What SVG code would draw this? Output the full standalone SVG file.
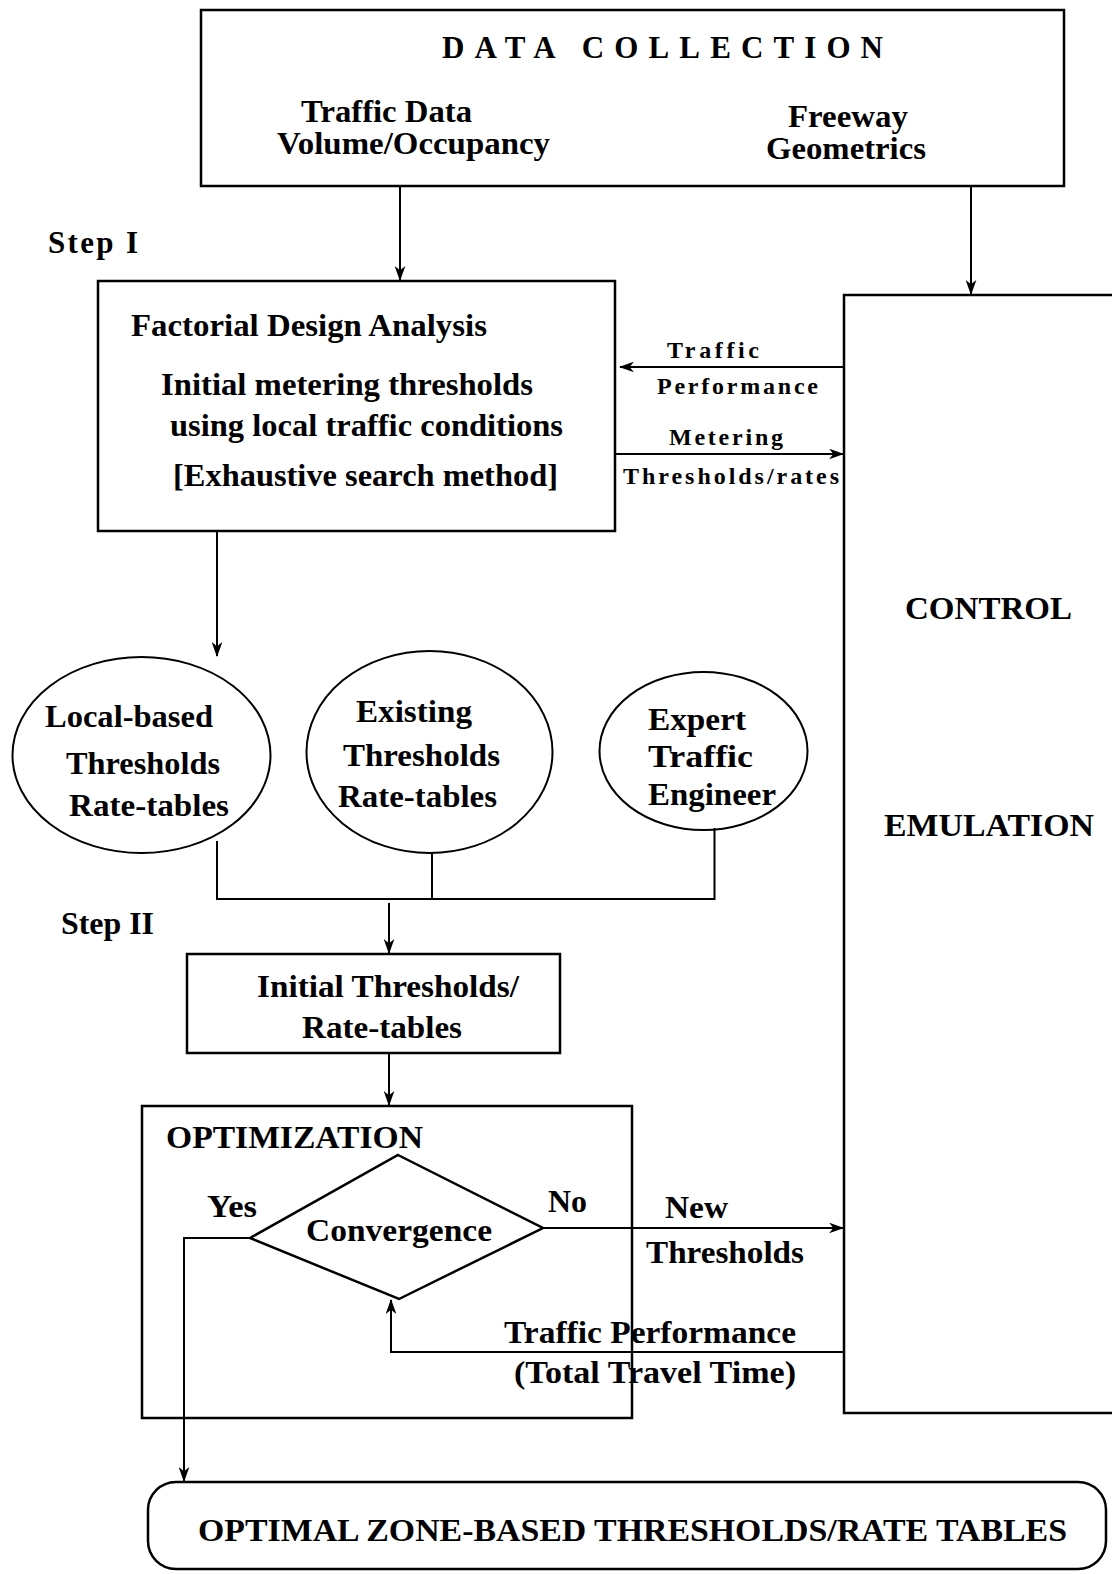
<svg xmlns="http://www.w3.org/2000/svg" width="1112" height="1574" viewBox="0 0 1112 1574">
<defs>
<style>
.bx{fill:none;stroke:#000;stroke-width:2.5}
.ln{fill:none;stroke:#000;stroke-width:2}
.t{font-family:"Liberation Serif","Times New Roman",serif;font-weight:bold;font-size:31px;fill:#000}
.s{font-family:"Liberation Serif","Times New Roman",serif;font-weight:bold;font-size:24px;fill:#000}
</style>
<marker id="ah" viewBox="0 0 14 10" refX="13" refY="5" markerWidth="15" markerHeight="11" markerUnits="userSpaceOnUse" orient="auto">
<path d="M0,0 L14,5 L0,10 L4,5 z" fill="#000"/>
</marker>
</defs>
<rect width="1112" height="1574" fill="#fff"/>

<g id="connectors">
<line class="ln" x1="400" y1="186" x2="400" y2="280" marker-end="url(#ah)"/>
<line class="ln" x1="971" y1="186" x2="971" y2="294" marker-end="url(#ah)"/>
<line class="ln" x1="844" y1="367" x2="620" y2="367" marker-end="url(#ah)"/>
<line class="ln" x1="615" y1="454" x2="843" y2="454" marker-end="url(#ah)"/>
<line class="ln" x1="217" y1="531" x2="217" y2="656" marker-end="url(#ah)"/>
<polyline class="ln" points="217,841 217,899 714.5,899 714.5,828"/>
<line class="ln" x1="432" y1="853" x2="432" y2="899"/>
<line class="ln" x1="389" y1="903" x2="389" y2="953" marker-end="url(#ah)"/>
<line class="ln" x1="389" y1="1053" x2="389" y2="1105" marker-end="url(#ah)"/>
<line class="ln" x1="543" y1="1228" x2="843" y2="1228" marker-end="url(#ah)"/>
<polyline class="ln" points="844,1352 391,1352 391,1300" marker-end="url(#ah)"/>
<polyline class="ln" points="250,1238 184,1238 184,1481" marker-end="url(#ah)"/>
</g>

<g id="data-collection">
<rect class="bx" x="201" y="10" width="863" height="176"/>
<text class="t" x="442" y="58" textLength="441" lengthAdjust="spacing" font-size="30">DATA COLLECTION</text>
<text class="t" x="301" y="122" textLength="171" lengthAdjust="spacingAndGlyphs" font-size="28">Traffic Data</text>
<text class="t" x="277" y="154" textLength="273" lengthAdjust="spacingAndGlyphs" font-size="28">Volume/Occupancy</text>
<text class="t" x="788" y="127" textLength="120" lengthAdjust="spacingAndGlyphs" font-size="28">Freeway</text>
<text class="t" x="766" y="159" textLength="160" lengthAdjust="spacingAndGlyphs" font-size="28">Geometrics</text>
</g>

<g id="step1">
<text class="t" x="48" y="253" textLength="90" lengthAdjust="spacing">Step  I</text>
</g>

<g id="factorial">
<rect class="bx" x="98" y="281" width="517" height="250"/>
<text class="t" x="131" y="336" textLength="356" lengthAdjust="spacingAndGlyphs">Factorial Design Analysis</text>
<text class="t" x="161" y="395" textLength="372" lengthAdjust="spacingAndGlyphs">Initial metering thresholds</text>
<text class="t" x="170" y="436" textLength="393" lengthAdjust="spacingAndGlyphs">using local traffic conditions</text>
<text class="t" x="173" y="486" textLength="385" lengthAdjust="spacingAndGlyphs">[Exhaustive search method]</text>
</g>

<g id="labels-loop1">
<text class="s" x="667" y="358" textLength="92" lengthAdjust="spacing">Traffic</text>
<text class="s" x="657" y="394" textLength="161" lengthAdjust="spacing">Performance</text>
<text class="s" x="669" y="445" textLength="114" lengthAdjust="spacing">Metering</text>
<text class="s" x="623" y="484" textLength="216" lengthAdjust="spacing">Thresholds/rates</text>
</g>

<g id="control-emulation">
<path class="bx" d="M1120,295 L844,295 L844,1413 L1120,1413"/>
<text class="t" x="905" y="619" textLength="167" lengthAdjust="spacingAndGlyphs">CONTROL</text>
<text class="t" x="884" y="836" textLength="210" lengthAdjust="spacingAndGlyphs">EMULATION</text>
</g>

<g id="local-based">
<ellipse class="ln" cx="141.5" cy="755" rx="129" ry="98"/>
<text class="t" x="45" y="727" textLength="168" lengthAdjust="spacingAndGlyphs">Local-based</text>
<text class="t" x="66" y="774" textLength="154" lengthAdjust="spacingAndGlyphs">Thresholds</text>
<text class="t" x="69" y="816" textLength="160" lengthAdjust="spacingAndGlyphs">Rate-tables</text>
</g>

<g id="existing">
<ellipse class="ln" cx="429.5" cy="752" rx="123" ry="101"/>
<text class="t" x="356" y="722" textLength="116" lengthAdjust="spacingAndGlyphs">Existing</text>
<text class="t" x="343" y="766" textLength="157" lengthAdjust="spacingAndGlyphs">Thresholds</text>
<text class="t" x="338" y="807" textLength="159" lengthAdjust="spacingAndGlyphs">Rate-tables</text>
</g>

<g id="expert">
<ellipse class="ln" cx="703.5" cy="751" rx="104" ry="79"/>
<text class="t" x="648" y="730" textLength="98" lengthAdjust="spacingAndGlyphs">Expert</text>
<text class="t" x="648" y="767" textLength="105" lengthAdjust="spacingAndGlyphs">Traffic</text>
<text class="t" x="648" y="805" textLength="128" lengthAdjust="spacingAndGlyphs">Engineer</text>
</g>

<g id="step2">
<text class="t" x="61" y="934" textLength="93" lengthAdjust="spacingAndGlyphs">Step II</text>
</g>

<g id="initial-thresholds">
<rect class="bx" x="187" y="954" width="373" height="99"/>
<text class="t" x="257" y="997" textLength="262" lengthAdjust="spacingAndGlyphs">Initial Thresholds/</text>
<text class="t" x="302" y="1038" textLength="160" lengthAdjust="spacingAndGlyphs">Rate-tables</text>
</g>

<g id="optimization">
<rect class="bx" x="142" y="1106" width="490" height="312"/>
<text class="t" x="166" y="1148" textLength="257" lengthAdjust="spacingAndGlyphs">OPTIMIZATION</text>
</g>

<g id="convergence">
<polygon class="bx" points="398,1155 543,1228 399,1299 250,1238"/>
<text class="t" x="306" y="1241" textLength="186" lengthAdjust="spacingAndGlyphs">Convergence</text>
</g>

<g id="labels-loop2">
<text class="t" x="207" y="1217" textLength="50" lengthAdjust="spacingAndGlyphs">Yes</text>
<text class="t" x="548" y="1212" textLength="39" lengthAdjust="spacingAndGlyphs">No</text>
<text class="t" x="665" y="1218" textLength="63" lengthAdjust="spacingAndGlyphs">New</text>
<text class="t" x="646" y="1263" textLength="158" lengthAdjust="spacingAndGlyphs">Thresholds</text>
<text class="t" x="504" y="1343" textLength="292" lengthAdjust="spacingAndGlyphs">Traffic Performance</text>
<text class="t" x="514" y="1383" textLength="282" lengthAdjust="spacingAndGlyphs">(Total Travel Time)</text>
</g>

<g id="optimal-tables">
<rect class="bx" x="148" y="1482" width="958" height="87" rx="28" ry="28"/>
<text class="t" x="198" y="1541" textLength="869" lengthAdjust="spacingAndGlyphs" font-size="30">OPTIMAL ZONE-BASED THRESHOLDS/RATE TABLES</text>
</g>
</svg>
